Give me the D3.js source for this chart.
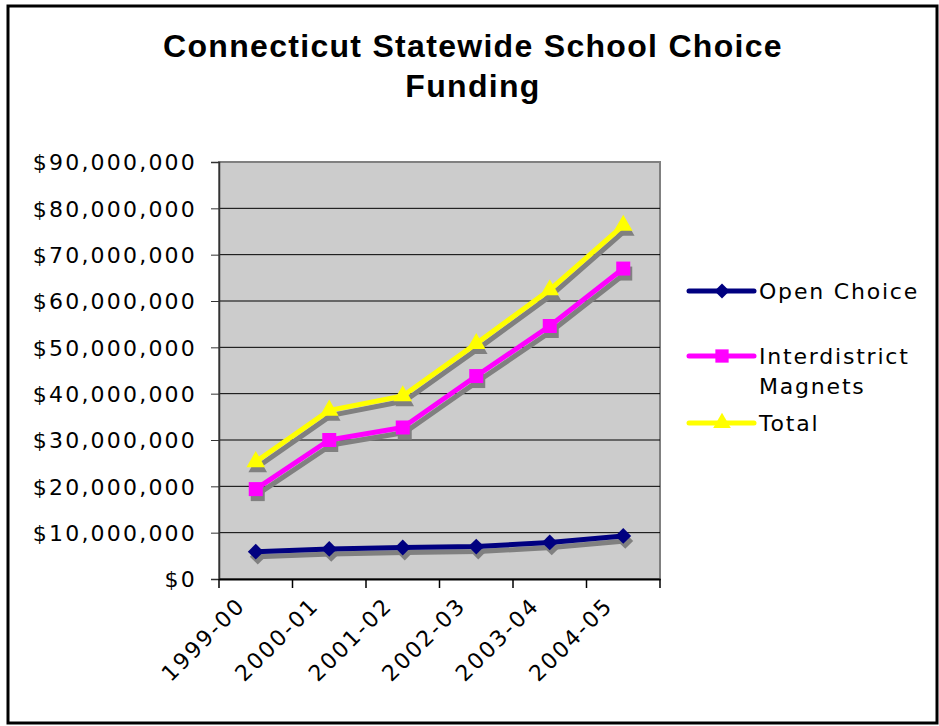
<!DOCTYPE html>
<html><head><meta charset="utf-8">
<script src="https://cdn.jsdelivr.net/npm/d3@7"></script>
<style>body{margin:0;background:#fff;} svg{display:block;}</style>
</head><body>
<svg id="c" width="939" height="726"></svg>
<script>
const categories = ["1999-00","2000-01","2001-02","2002-03","2003-04","2004-05"];
const openChoice = [5900000, 6500000, 6800000, 7000000, 7900000, 9300000];
const magnets = [19400000, 30000000, 32700000, 43800000, 54600000, 67000000];
const total = [25300000, 36400000, 39500000, 50800000, 62400000, 76300000];
const yTicks = [0,10000000,20000000,30000000,40000000,50000000,60000000,70000000,80000000,90000000];
const seriesNames = ["Open Choice", "Interdistrict\nMagnets", "Total"];

const svg = d3.select("#c");
const font = "Verdana, 'DejaVu Sans', sans-serif";
const ls = 2.2;
svg.append("rect").attr("x",8).attr("y",6).attr("width",929).attr("height",717)
  .attr("fill","#fff").attr("stroke","#000").attr("stroke-width",3);

const tfont = "'Liberation Sans', Arial, sans-serif";
[["Connecticut Statewide School Choice",57],["Funding",97]].forEach(([t,yy])=>{
  svg.append("text").attr("x",473).attr("y",yy).attr("text-anchor","middle")
    .attr("font-family",tfont).attr("font-weight","bold").attr("font-size",32)
    .attr("letter-spacing",1.3).text(t);
});

const L=219, R=660, T=162, B=579;
const x = d3.scaleBand().domain(categories).range([L,R]);
const y = d3.scaleLinear().domain([0,90000000]).range([B,T]);

svg.append("rect").attr("x",L).attr("y",T).attr("width",R-L).attr("height",B-T)
  .attr("fill","#cccccc").attr("stroke","#808080").attr("stroke-width",2);

svg.append("g").selectAll("line").data(yTicks.slice(1,-1)).join("line")
  .attr("x1",L).attr("x2",R).attr("y1",d=>y(d)).attr("y2",d=>y(d))
  .attr("stroke","#000").attr("stroke-width",1);

const fmt = d => "$" + d3.format(",")(d);
const yAxis = svg.append("g").attr("transform",`translate(${L},0)`)
  .call(d3.axisLeft(y).tickValues(yTicks).tickFormat(fmt).tickSize(8).tickPadding(14));
yAxis.select(".domain").attr("stroke","#333").attr("stroke-width",1.5);
yAxis.selectAll(".tick line").attr("stroke","#333");
yAxis.selectAll("text").attr("font-family",font).attr("font-size",22).attr("letter-spacing",ls)
  .attr("fill","#000").attr("dy","0.36em");

const xAxis = svg.append("g").attr("transform",`translate(0,${B})`)
  .call(d3.axisBottom(x).tickSize(0).tickFormat(""));
xAxis.select(".domain").attr("stroke","#000").attr("stroke-width",2);
const bounds = categories.map(c=>x(c)).concat([R]);
svg.append("g").selectAll("line").data(bounds).join("line")
  .attr("x1",d=>d).attr("x2",d=>d).attr("y1",B).attr("y2",B+9).attr("stroke","#000").attr("stroke-width",1.5);
const cx = c => x(c)+x.bandwidth()/2;
svg.append("g").selectAll("text").data(categories).join("text")
  .attr("transform",d=>`translate(${cx(d)-20},${B+17}) rotate(-45)`)
  .attr("text-anchor","end").attr("dy","0.7em").attr("letter-spacing",ls)
  .attr("font-family",font).attr("font-size",22).attr("fill","#000").text(d=>d);

const series = [
  {vals:openChoice, color:"#000080", sym:d3.symbolDiamond2, size:160},
  {vals:magnets, color:"#ff00ff", sym:d3.symbolSquare, size:196},
  {vals:total, color:"#ffff00", sym:d3.symbolTriangle, size:150}
];
const line = d3.line().x((d,i)=>cx(categories[i])).y(d=>y(d));
const sh = svg.append("g").attr("transform","translate(2,5)");
const fg = svg.append("g");
series.forEach(s=>{
  sh.append("path").attr("d",line(s.vals)).attr("fill","none").attr("stroke","#808080").attr("stroke-width",5).attr("stroke-linejoin","round");
  sh.selectAll(null).data(s.vals).join("path")
    .attr("d",d3.symbol(s.sym,s.size)).attr("transform",(d,i)=>`translate(${cx(categories[i])},${y(d)})`).attr("fill","#808080");
});
series.forEach(s=>{
  fg.append("path").attr("d",line(s.vals)).attr("fill","none").attr("stroke",s.color).attr("stroke-width",5).attr("stroke-linejoin","round");
  fg.selectAll(null).data(s.vals).join("path")
    .attr("d",d3.symbol(s.sym,s.size)).attr("transform",(d,i)=>`translate(${cx(categories[i])},${y(d)})`).attr("fill",s.color);
});

const legY = [291, 356, 423];
series.forEach((s,i)=>{
  const g = svg.append("g").attr("transform",`translate(689,${legY[i]})`);
  g.append("line").attr("x1",0).attr("x2",65).attr("stroke",s.color).attr("stroke-width",5).attr("stroke-linecap","round");
  g.append("path").attr("d",d3.symbol(s.sym,s.size*0.9)).attr("transform","translate(33,0)").attr("fill",s.color);
  seriesNames[i].split("\n").forEach((t,j)=>{
    g.append("text").attr("x",70).attr("y",j*30).attr("dy","0.36em").attr("letter-spacing",1.8)
      .attr("font-family",font).attr("font-size",22).attr("fill","#000").text(t);
  });
});
</script>
</body></html>
